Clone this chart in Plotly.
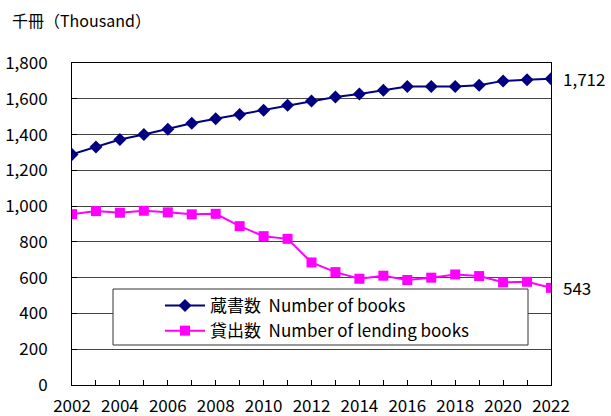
import plotly.graph_objects as go

years = list(range(2002, 2023))
books = [1289, 1331, 1372, 1400, 1430, 1463, 1488, 1512, 1536, 1564, 1587,
         1610, 1627, 1648, 1668, 1668, 1668, 1676, 1700, 1706, 1712]
lending = [955, 972, 963, 974, 965, 954, 957, 888, 832, 817, 685,
           631, 594, 611, 587, 600, 618, 609, 574, 577, 543]

FONT = "Noto Sans CJK JP"
NAVY = "#000080"
PINK = "#FF00FF"
SP = "\u00a0\u00a0"

fig = go.Figure()
fig.add_trace(go.Scatter(
    x=years, y=books, mode="lines+markers", name="蔵書数" + SP + "Number of books",
    line=dict(color=NAVY, width=2),
    marker=dict(symbol="diamond", size=10, color=NAVY)))
fig.add_trace(go.Scatter(
    x=years, y=lending, mode="lines+markers", name="貸出数" + SP + "Number of lending books",
    line=dict(color=PINK, width=2),
    marker=dict(symbol="square", size=10, color=PINK)))

# end labels
fig.add_annotation(x=years[-1], y=books[-1], text=f"{books[-1]:,}", showarrow=False,
                   xanchor="left", xshift=10, font=dict(size=17, color="black"))
fig.add_annotation(x=years[-1], y=lending[-1], text=f"{lending[-1]:,}", showarrow=False,
                   xanchor="left", xshift=10, font=dict(size=17, color="black"))

# axis title
fig.add_annotation(x=0, y=1, xref="paper", yref="paper", xshift=-62, yshift=43,
                   text="千冊（Thousand）", showarrow=False, xanchor="left", yanchor="middle",
                   font=dict(size=16, color="black"))

# legend frame
fig.add_shape(type="rect", xref="paper", yref="paper",
              x0=(113 - 72) / 479, x1=(528 - 72) / 479,
              y0=(385 - 345) / 322, y1=(385 - 289) / 322,
              line=dict(color="#333333", width=1), fillcolor="white", layer="above")

fig.update_layout(
    width=611, height=416,
    margin=dict(l=72, r=60, t=63, b=31),
    paper_bgcolor="white", plot_bgcolor="white",
    font=dict(family=FONT, size=17, color="black"),
    showlegend=True,
    legend=dict(x=(160 - 72) / 479, y=(385 - 288) / 322, xanchor="left", yanchor="top",
                bgcolor="rgba(0,0,0,0)", borderwidth=0, font=dict(size=17),
                tracegroupgap=0, itemwidth=40),
    xaxis=dict(range=[2002, 2022], dtick=2, tick0=2002, showgrid=False,
               ticks="inside", ticklen=5, tickcolor="black",
               minor=dict(dtick=1, ticks="inside", ticklen=5, tickcolor="black"),
               showline=True, linecolor="black", linewidth=1, mirror=True,
               tickfont=dict(size=17), zeroline=False, automargin=False,
               ticklabelstandoff=6),
    yaxis=dict(range=[0, 1800], dtick=200, tickformat=",", showgrid=True,
               gridcolor="#444444", gridwidth=1,
               ticks="inside", ticklen=5, tickcolor="black",
               showline=True, linecolor="black", linewidth=1, mirror=True,
               tickfont=dict(size=17), zeroline=False, ticklabelstandoff=20,
               automargin=False),
)

fig.write_html("out.html", config={"displayModeBar": False},
               post_script="document.body.style.margin='0';")
